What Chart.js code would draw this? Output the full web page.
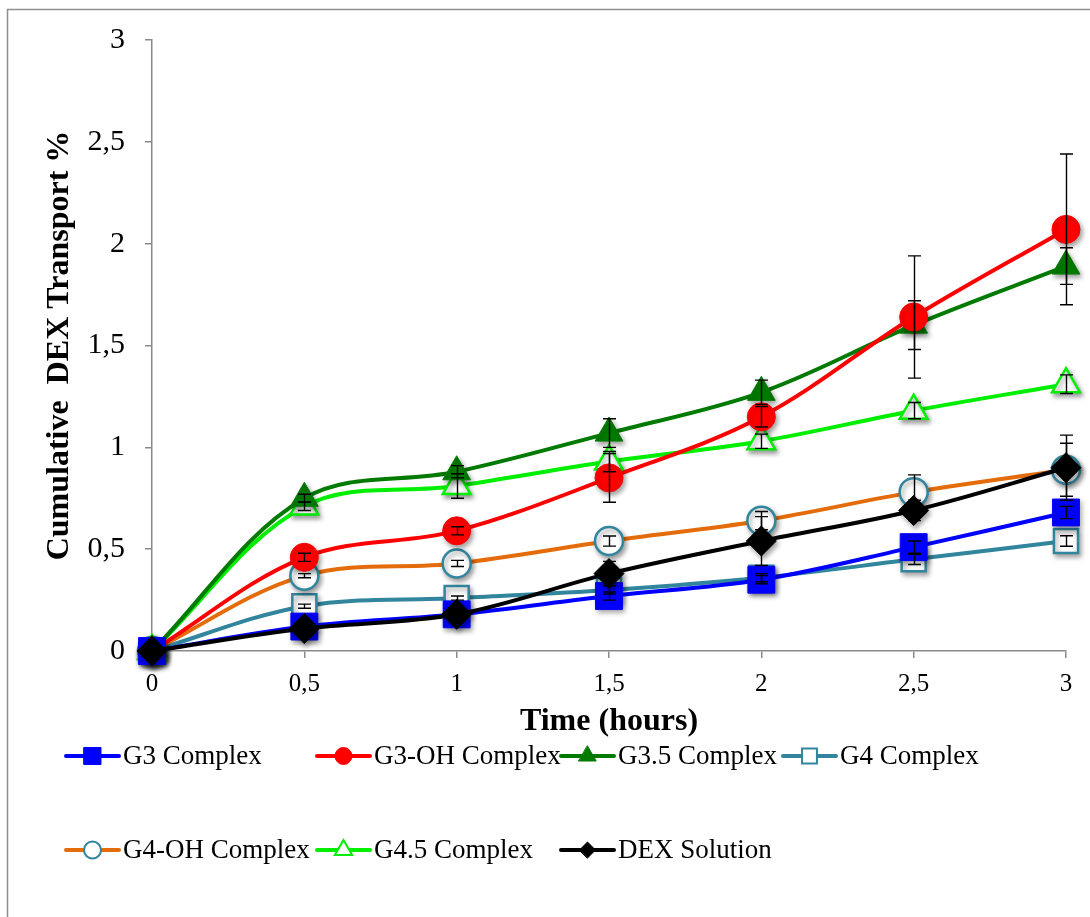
<!DOCTYPE html>
<html>
<head>
<meta charset="utf-8">
<script src="https://cdn.jsdelivr.net/npm/chart.js@4.4.1/dist/chart.umd.min.js"></script>
<style>
  html, body { margin: 0; padding: 0; background: #fff; }
  canvas { display: block; }
</style>
</head>
<body>
<canvas id="c" width="1090" height="917"></canvas>
<script>
// Sampling times (hours)
const hours = [0, 0.5, 1, 1.5, 2, 2.5, 3];

// Cumulative DEX transport (%) per formulation, with +/- error
const g3      = [0, 0.12, 0.18, 0.27, 0.35, 0.51, 0.68];
const g3Err   = [0, 0.01, 0.01, 0.02, 0.02, 0.03, 0.03];
const g3oh    = [0, 0.46, 0.59, 0.85, 1.15, 1.64, 2.07];
const g3ohErr = [0, 0.02, 0.02, 0.12, 0.05, 0.30, 0.37];
const g35     = [0, 0.75, 0.88, 1.07, 1.27, 1.60, 1.89];
const g35Err  = [0, 0.02, 0.03, 0.07, 0.06, 0.12, 0.09];
const g4      = [0, 0.22, 0.26, 0.30, 0.36, 0.45, 0.54];
const g4Err   = [0, 0.01, 0.01, 0.02, 0.02, 0.025, 0.026];
const g4oh    = [0, 0.37, 0.43, 0.54, 0.64, 0.78, 0.89];
const g4ohErr = [0, 0.01, 0.015, 0.025, 0.045, 0.085, 0.13];
const g45     = [0, 0.71, 0.81, 0.93, 1.03, 1.18, 1.31];
const g45Err  = [0, 0.02, 0.06, 0.05, 0.035, 0.04, 0.046];
const dex     = [0, 0.11, 0.18, 0.38, 0.54, 0.69, 0.90];
const dexErr  = [0, 0.01, 0.01, 0.06, 0.12, 0.05, 0.16];

const seriesNames = ['G3 Complex', 'G3-OH Complex', 'G3.5 Complex', 'G4 Complex',
                     'G4-OH Complex', 'G4.5 Complex', 'DEX Solution'];
const yTicks = [0, 0.5, 1, 1.5, 2, 2.5, 3];

const SERIF = '"Liberation Serif", "Times New Roman", serif';
const TEAL = '#31859c';

function pts(values) {
  return values.map((v, i) => ({ x: hours[i], y: v }));
}

function series(label, values, errors, style) {
  return Object.assign({
    label: label,
    data: pts(values),
    errors: errors,
    borderWidth: 4,
    tension: 0.35,
    fill: false,
    clip: false,
    pointBorderWidth: 1
  }, style);
}

const datasets = [
  series(seriesNames[0], g3, g3Err, {
    borderColor: '#0000ff', pointStyle: 'rect', pointRadius: 19,
    pointBackgroundColor: '#0000ff', pointBorderColor: '#0000ff', order: 1
  }),
  series(seriesNames[1], g3oh, g3ohErr, {
    borderColor: '#ff0000', pointStyle: 'circle', pointRadius: 14,
    pointBackgroundColor: '#ff0000', pointBorderColor: '#ff0000', order: 2
  }),
  series(seriesNames[2], g35, g35Err, {
    borderColor: '#007a00', pointStyle: 'triangle', pointRadius: 16,
    pointBackgroundColor: '#007a00', pointBorderColor: '#007a00', order: 3
  }),
  series(seriesNames[3], g4, g4Err, {
    borderColor: TEAL, pointStyle: 'rect', pointRadius: 17, pointBorderWidth: 2.5,
    pointBackgroundColor: '#ffffff', pointBorderColor: TEAL, order: 6
  }),
  series(seriesNames[4], g4oh, g4ohErr, {
    borderColor: '#e46c0a', pointStyle: 'circle', pointRadius: 14, pointBorderWidth: 2.5,
    pointBackgroundColor: '#ffffff', pointBorderColor: TEAL, order: 5
  }),
  series(seriesNames[5], g45, g45Err, {
    borderColor: '#00ee00', pointStyle: 'triangle', pointRadius: 16, pointBorderWidth: 2.5,
    pointBackgroundColor: '#ffffff', pointBorderColor: '#00ee00', order: 4
  }),
  series(seriesNames[6], dex, dexErr, {
    borderColor: '#000000', pointStyle: 'rectRot', pointRadius: 15,
    pointBackgroundColor: '#000000', pointBorderColor: '#000000', order: 0
  })
];

// Soft drop shadow under the data markers only
const PointEl = Chart.registry.getElement('point');
const basePointDraw = PointEl.prototype.draw;
PointEl.prototype.draw = function (ctx, area) {
  ctx.save();
  ctx.shadowColor = 'rgba(0,0,0,0.38)';
  ctx.shadowBlur = 5;
  ctx.shadowOffsetX = 2;
  ctx.shadowOffsetY = 3;
  basePointDraw.call(this, ctx, area);
  ctx.restore();
};

// Outer frame (left and top edges of the chart box)
const framePlugin = {
  id: 'frame',
  beforeDraw(chart) {
    const ctx = chart.ctx;
    ctx.save();
    ctx.fillStyle = '#fff';
    ctx.fillRect(0, 0, chart.width, chart.height);
    ctx.strokeStyle = '#8f8f8f';
    ctx.lineWidth = 1.5;
    ctx.beginPath();
    ctx.moveTo(7.5, chart.height);
    ctx.lineTo(7.5, 9.5);
    ctx.lineTo(chart.width, 9.5);
    ctx.stroke();
    ctx.restore();
  }
};

// Vertical +/- error bars with caps
const errorBarPlugin = {
  id: 'errorBars',
  afterDatasetsDraw(chart) {
    const { ctx, scales } = chart;
    const xs = scales.x, ys = scales.y;
    ctx.save();
    ctx.strokeStyle = '#000';
    ctx.lineWidth = 1.4;
    chart.data.datasets.forEach(ds => {
      ds.errors.forEach((e, j) => {
        if (!e) return;
        const v = ds.data[j].y;
        const px = Math.round(xs.getPixelForValue(ds.data[j].x)) + 0.5;
        const top = ys.getPixelForValue(v + e);
        const bot = ys.getPixelForValue(v - e);
        ctx.beginPath();
        ctx.moveTo(px, top); ctx.lineTo(px, bot);
        ctx.moveTo(px - 6.5, top); ctx.lineTo(px + 6.5, top);
        ctx.moveTo(px - 6.5, bot); ctx.lineTo(px + 6.5, bot);
        ctx.stroke();
      });
    });
    ctx.restore();
  }
};

// Two-row legend below the x-axis title
const legendCols = [66, 317, 561, 783];
const legendRows = [756, 850];
const legendMarks = [
  { style: 'rect', r: 12, fill: true },
  { style: 'circle', r: 8.5, fill: true },
  { style: 'triangle', r: 10, fill: true },
  { style: 'rect', r: 10.5, fill: false },
  { style: 'circle', r: 8.5, fill: false },
  { style: 'triangle', r: 10, fill: false },
  { style: 'rectRot', r: 8, fill: true }
];
const legendPlugin = {
  id: 'bottomLegend',
  afterDraw(chart) {
    const ctx = chart.ctx;
    ctx.save();
    chart.data.datasets.forEach((ds, i) => {
      const x0 = legendCols[i % 4];
      const y = legendRows[Math.floor(i / 4)];
      const len = 53;
      ctx.strokeStyle = ds.borderColor;
      ctx.lineWidth = 4;
      ctx.lineCap = 'round';
      ctx.beginPath();
      ctx.moveTo(x0, y); ctx.lineTo(x0 + len, y);
      ctx.stroke();
      const m = legendMarks[i];
      ctx.fillStyle = m.fill ? ds.pointBackgroundColor : '#ffffff';
      ctx.strokeStyle = ds.pointBorderColor;
      ctx.lineWidth = m.fill ? 1 : 2;
      Chart.helpers.drawPoint(ctx, { pointStyle: m.style, radius: m.r, borderWidth: m.fill ? 1 : 2, rotation: 0 },
        x0 + len / 2, y);
      ctx.fillStyle = '#000';
      ctx.font = '27px ' + SERIF;
      ctx.textBaseline = 'middle';
      ctx.textAlign = 'left';
      ctx.fillText(ds.label, x0 + len + 4, y + 1);
    });
    ctx.restore();
  }
};

const commaFmt = v => String(v).replace('.', ',');

new Chart(document.getElementById('c'), {
  type: 'line',
  data: { datasets: datasets },
  plugins: [framePlugin, errorBarPlugin, legendPlugin],
  options: {
    responsive: false,
    animation: false,
    devicePixelRatio: 1,
    layout: { padding: { left: 22, top: 40, right: 24, bottom: 166 } },
    plugins: { legend: { display: false }, tooltip: { enabled: false } },
    scales: {
      x: {
        type: 'linear',
        min: 0, max: 3,
        afterFit(scale) { scale.height = 100; },
        afterBuildTicks(scale) { scale.ticks = hours.map(v => ({ value: v })); },
        ticks: {
          callback: commaFmt,
          color: '#000',
          font: { family: SERIF, size: 25 },
          padding: 11,
          maxRotation: 0
        },
        grid: { drawOnChartArea: false, drawTicks: true, tickLength: 7, color: '#8a8a8a', lineWidth: 1.5 },
        border: { display: true, color: '#8a8a8a', width: 1.5 },
        title: {
          display: true,
          text: 'Time (hours)',
          color: '#000',
          font: { family: SERIF, size: 32, weight: 'bold' },
          padding: { top: 0, bottom: 10 }
        }
      },
      y: {
        type: 'linear',
        min: 0, max: 3,
        afterFit(scale) { scale.width = 130; },
        afterBuildTicks(scale) { scale.ticks = yTicks.map(v => ({ value: v })); },
        ticks: {
          callback: commaFmt,
          color: '#000',
          font: { family: SERIF, size: 30 },
          padding: 20
        },
        grid: { drawOnChartArea: false, drawTicks: true, tickLength: 7, color: '#8a8a8a', lineWidth: 1.5 },
        border: { display: true, color: '#8a8a8a', width: 1.5 },
        title: {
          display: true,
          text: 'Cumulative  DEX Transport %',
          color: '#000',
          font: { family: SERIF, size: 32, weight: 'bold' },
          padding: { top: 19, bottom: 0 }
        }
      }
    }
  }
});
</script>
</body>
</html>
